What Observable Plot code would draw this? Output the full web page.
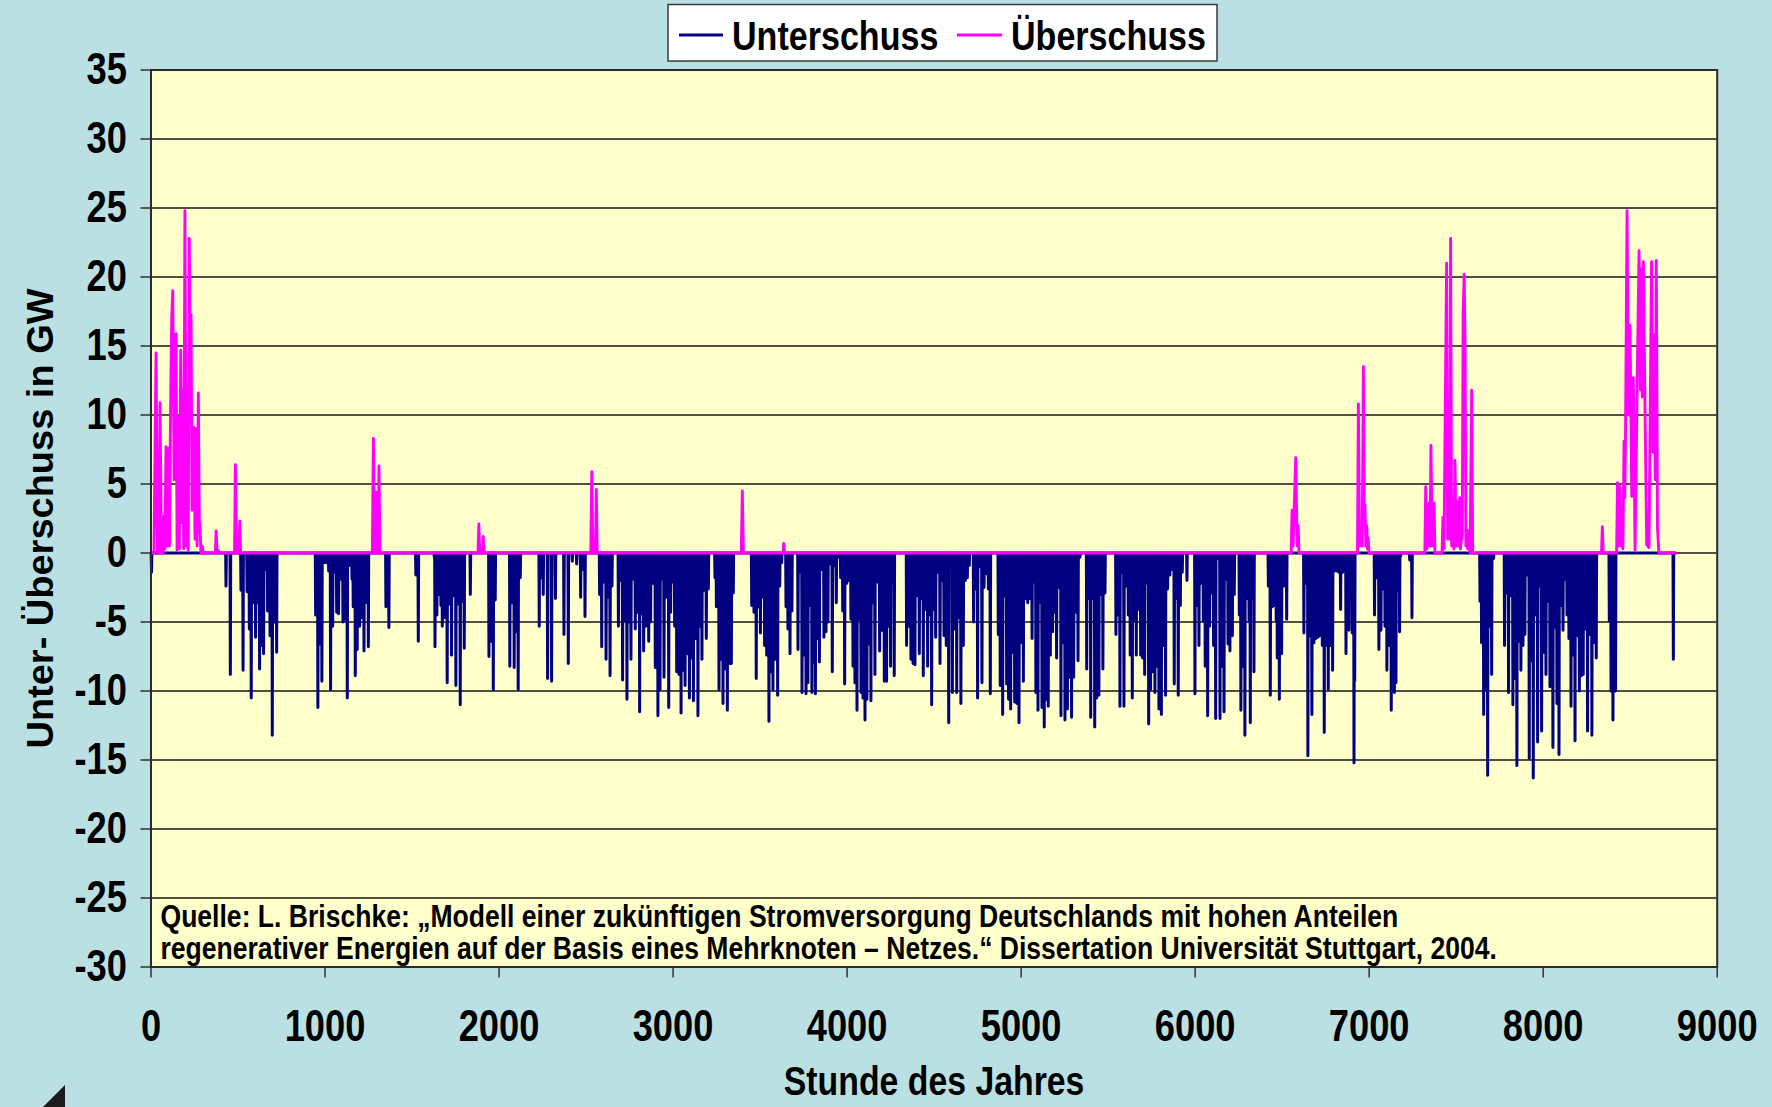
<!DOCTYPE html>
<html><head><meta charset="utf-8">
<script src="https://cdn.jsdelivr.net/npm/d3@7"></script>
<script src="https://cdn.jsdelivr.net/npm/@observablehq/plot@0.6"></script>
<style>
html,body{margin:0;padding:0;background:#BBE0E3;}
#page{position:relative;width:1772px;height:1107px;overflow:hidden;font-family:"Liberation Sans",Arial,sans-serif;font-weight:bold;}
#legend svg,#chart svg{display:block;}
#corner{position:absolute;left:0;top:0;pointer-events:none;}
</style></head><body><div id="page"><div id="legend"></div><div id="chart"></div></div>
<script>
// ---------------- data ----------------
const seriesNames = ["Unterschuss", "Überschuss"];
const seriesColors = ["#000080", "#FF00FF"];

// Unterschuss: hours of each downward spike and its depth (GW); the curve leaves 0 and returns to 0 around each
const unterHours = [3,
431,456,517,529,552,565,576,590,601,613,624,636,647,661,670,684,697,710,722,
946,959,971,982,996,1009,1021,1032,1044,1055,1067,1078,1090,1103,1115,1128,1139,1155,1162,1174,1185,1199,1210,1224,1235,1249,
1350,1367,1522,1536,
1628,1632,1643,1655,1666,1674,1685,1702,1716,1727,1741,1752,1766,1777,1789,1800,1835,
1942,1953,1967,1978,2062,2074,2087,2099,2110,2122,2231,2242,2254,2279,
2302,2324,2373,2398,2421,2446,2469,2483,2494,
2578,2590,2603,2615,2626,2638,2649,2686,2699,2710,2722,2735,2747,2758,2772,2783,2795,2808,2820,2831,2843,2860,2871,2885,2898,2913,2925,2936,2948,2961,2975,2986,2998,3009,3021,3034,3046,3057,3069,3082,3094,3105,3117,3130,3143,3155,3166,3180,3191,3203,
3241,3249,3264,3275,3287,3299,3312,3323,3335,3346,
3452,3465,3478,3490,3502,3515,3526,3538,3551,3563,3574,3586,3601,3613,3624,
3649,3660,3672,3683,3718,3729,3741,3752,3764,3775,3787,3798,3810,3818,3829,3841,3852,3867,3879,3890,3902,3915,3927,3938,3952,3963,3975,3986,3998,4011,4022,4034,4045,4057,4068,4080,4091,4103,4114,4126,4137,4149,4160,4174,4187,4201,4214,4227,4239,4250,4262,4271,
4342,4356,4367,4379,4390,4404,4415,4427,4438,4450,4463,4474,4486,4498,4509,4520,4534,4545,4557,4570,4584,
4605,4618,4630,4643,4654,4668,4679,4691,4702,4727,4739,4750,4764,4775,4787,4800,4812,4823,4869,4880,4894,4905,4917,4928,4940,4951,4963,4976,4988,4999,5013,5024,5038,5049,5063,5074,5085,5097,5108,5120,5133,5145,5156,5168,5181,5193,5204,5216,5229,5241,5252,5266,5277,5290,5302,5315,5327,5338,
5377,5388,5400,5411,5423,5434,5447,5459,5470,5482,
5545,5557,5568,5580,5591,5605,5616,5627,5639,5650,5662,5675,5687,5698,5710,5721,5733,5744,5758,5769,5781,5792,5806,5817,5830,5842,5855,5867,5880,5892,5903,5915,5926,5953,
5999,6011,6022,6036,6047,6058,6072,6083,6095,6106,6118,6129,6143,6154,6166,6177,6189,6200,6214,6225,6254,6263,6275,6286,6298,6310,6317,6327,6338,
6421,6432,6444,6455,6466,6472,6484,6497,6509,6526,
6625,6637,6648,6660,6671,6683,6694,6706,6717,6731,6742,6754,6765,6777,6790,6802,6813,6825,6836,6848,6867,6884,
6903,6913,6917,
7031,7043,7056,7068,7079,7091,7102,7114,7127,7139,7145,7154,7164,7175,7181,7233,7246,
7637,7646,7658,7671,7681,7692,7704,7715,
7778,7790,7801,7815,7826,7838,7849,7861,7872,7884,7895,7909,7920,7932,7943,7955,7968,7980,7991,8005,8016,8028,8039,8047,8056,8068,8079,8091,8102,8114,8125,8137,8148,8160,8171,8183,8196,8208,8219,8230,8242,8255,8267,8280,8292,8305,
8380,8390,8401,8411,8416,
8748];
const unterValues = [-1.4,
-2.4,-8.8,-2.7,-8.5,-2.8,-5.5,-10.5,-3.6,-6.1,-3.6,-8.4,-6.7,-7.3,-1.2,-4.2,-6.0,-13.2,-5.0,-7.2,
-4.5,-11.2,-6.6,-9.3,-0.7,-0.7,-1.3,-9.9,-5.3,-1.4,-4.3,-4.4,-1.9,-5.0,-4.8,-10.5,-0.9,-1.9,-3.9,-8.9,-7.0,-5.3,-4.7,-7.1,-3.6,-6.8,
-3.9,-5.4,-1.6,-6.4,
-0.3,-6.8,-4.5,-3.0,-3.8,-5.3,-4.7,-9.4,-3.7,-7.4,-3.1,-9.6,-3.7,-11.0,-3.5,-6.9,-3.0,
-7.5,-6.4,-9.9,-3.4,-8.2,-3.6,-8.3,-5.7,-9.9,-1.8,-5.3,-1.8,-3.0,-9.1,
-9.3,-3.3,-5.9,-8.0,-0.6,-0.8,-3.2,-1.2,-4.6,
-3.0,-6.8,-2.1,-7.7,-3.2,-8.9,-2.4,-5.3,-2.0,-9.2,-4.9,-10.6,-5.0,-7.7,-1.9,-5.5,-4.3,-11.5,-4.4,-7.1,-5.3,-6.4,-5.0,-2.2,-8.3,-11.8,-9.9,-1.9,-9.0,-3.2,-11.2,-4.3,-2.1,-5.3,-8.6,-8.8,-11.6,-8.5,-9.6,-7.3,-10.5,-7.6,-10.7,-6.2,-11.8,-5.3,-7.7,-2.7,-6.2,-2.6,
-1.8,-3.9,-9.9,-7.7,-10.9,-8.4,-11.4,-8.0,-8.0,-2.9,
-3.8,-4.3,-9.1,-3.9,-5.8,-3.2,-6.7,-7.4,-12.2,-8.6,-9.9,-7.7,-10.3,-2.4,-0.7,
-3.9,-5.5,-7.3,-4.2,-7.0,-1.4,-10.1,-7.4,-10.2,-9.4,-3.8,-10.1,-7.9,-10.2,-6.2,-7.9,-1.2,-6.1,-5.7,-5.0,-0.8,-8.6,-0.9,-3.6,-0.3,-1.8,-4.2,-9.5,-2.2,-2.0,-4.8,-8.2,-9.4,-11.4,-4.8,-10.1,-10.5,-12.1,-10.6,-6.6,-10.7,-3.6,-8.8,-2.1,-7.1,-5.6,-9.3,-9.3,-5.3,-8.2,-2.1,-8.9,
-6.7,-5.3,-7.7,-8.0,-8.1,-3.1,-7.3,-3.3,-8.9,-4.1,-8.2,-4.5,-11.0,-4.1,-6.1,-1.4,-8.0,-2.0,-6.0,-6.7,-12.3,
-10.1,-5.5,-10.1,-4.7,-10.9,-6.7,-2.0,-1.8,-0.9,-5.0,-2.6,-10.5,-1.0,-9.4,-2.5,-1.5,-2.6,-10.2,-5.9,-9.6,-11.7,-3.1,-9.5,-10.6,-11.3,-7.2,-10.8,-10.9,-12.3,-6.5,-9.3,-3.3,-3.6,-3.3,-6.2,-2.1,-10.1,-11.4,-3.6,-11.2,-12.6,-10.6,-11.1,-7.4,-5.7,-4.3,-7.6,-2.5,-11.8,-6.5,-12.1,-11.3,-9.0,-11.9,-9.0,-4.3,-7.8,-0.3,
-8.4,-3.3,-11.9,-3.3,-12.6,-10.5,-10.3,-3.0,-8.4,-2.9,
-5.9,-4.5,-11.1,-1.4,-11.1,-2.4,-4.5,-7.4,-10.5,-4.9,-7.4,-4.1,-7.4,-7.6,-8.8,-2.2,-12.4,-9.9,-8.6,-10.1,-8.2,-11.3,-11.7,-6.7,-10.3,-2.6,-1.6,-1.2,-9.5,-3.3,-10.3,-3.8,-1.4,-2.0,
-10.2,-3.8,-6.7,-2.2,-4.9,-8.2,-11.8,-5.3,-2.9,-6.7,-12.0,-0.4,-12.0,-8.2,-11.5,-1.9,-6.6,-7.1,-6.0,-3.0,-4.5,-11.4,-8.2,-13.2,-3.3,-5.0,-12.3,-3.3,-8.6,
-2.4,-10.3,-3.9,-3.8,-4.9,-7.6,-10.6,-7.3,-2.4,-4.8,
-5.8,-2.2,-14.7,-6.0,-11.7,-6.5,-6.2,-6.1,-6.0,-6.7,-13.0,-6.7,-9.9,-6.7,-8.5,-1.3,-1.3,-1.4,-4.1,-1.4,-7.3,-5.6,
-5.8,-15.2,-9.3,
-4.5,-1.8,-7.0,-5.6,-2.6,-5.3,-8.5,-6.7,-11.4,-1.5,-10.1,-9.4,-2.7,-5.7,-0.2,-0.5,-4.7,
-3.5,-6.5,-11.7,-9.9,-16.1,-5.3,-8.8,-0.4,
-6.7,-2.9,-10.1,-3.1,-11.0,-9.1,-15.4,-6.4,-8.5,-6.7,-5.9,-1.6,-14.9,-7.8,-16.3,-4.5,-13.7,-2.4,-12.9,-7.2,-8.8,-3.5,-9.7,-3.3,-14.1,-5.4,-10.9,-14.6,-3.8,-5.6,-1.9,-4.5,-6.2,-11.1,-7.4,-13.6,-6.0,-10.0,-8.9,-8.8,-5.5,-12.9,-5.9,-13.2,-6.5,-7.6,
-4.9,-10.0,-12.1,-4.1,-10.0,
-7.7];

// Überschuss: the magenta curve, point by point (hour, GW)
const ueberHours = [0,17,29,37,46,52,60,71,75,80,86,92,98,106,112,119,125,133,138,144,150,155,163,171,178,182,188,195,203,209,214,220,226,230,236,242,247,253,259,265,272,278,281,287,295,300,
370,374,380,387,392,480,485,492,505,510,515,
1272,1278,1284,1290,1295,1300,1305,1310,1316,
1879,1884,1889,1904,1909,1914,
2527,2533,2539,2554,2559,2564,
3392,3398,3404,3632,3636,3640,
6552,6557,6563,6578,6586,6592,6597,
6933,6938,6945,6951,6960,6967,6972,6976,6981,6986,6990,6994,6999,
7320,7325,7332,7344,7350,7355,7362,7373,7378,
7419,7424,7430,7445,7451,7457,7462,7468,7474,7480,7487,7493,7500,7507,7513,7520,7525,7530,7535,7540,7546,7551,7556,7561,7566,7570,7580,7589,7595,
8335,8340,8345,
8422,8427,8434,8442,8446,8451,8458,8465,8469,8473,8482,8490,8499,8509,8518,8528,8541,8551,8559,8564,8570,8576,8585,8595,8608,8623,8631,8639,8644,8650,8657,8665,8760];
const ueberValues = [0,0,14.5,0,0,10.9,0,0,2.7,0.3,7.7,0.5,7.6,0.5,9.9,16.9,19.0,5.3,13.5,15.9,0.2,9.9,0.3,14.7,2.2,11.8,0.3,24.8,0.5,1.4,0.2,22.8,12.0,17.3,3.1,3.2,9.1,1.0,9.0,0.5,11.6,1.5,2.2,0,0.5,0,
0,1.6,0,0.2,0,0,6.4,0,0,2.3,0,
0,8.3,0,0,4.4,0,0,6.3,0,
0,2.1,0,0,1.2,0,
0,5.9,0,0,4.6,0,
0,4.5,0,0,0.7,0,
0,3.1,0.5,6.9,0.5,2.0,0,
0,10.8,0.5,1.4,0.5,13.5,2.5,3.5,0.5,2.0,0.3,1.1,0,
0,4.8,0.3,3.6,0.5,7.8,0.5,3.6,0,
0,2.6,0.3,21.0,1.0,6.9,1.0,22.8,0.5,1.3,0.3,6.7,0.5,3.7,0.5,4.0,0.3,1.1,1.0,17.2,20.2,15.2,0.5,1.7,0.3,1.6,0,11.8,0,
0,1.9,0,
0,5.1,0.5,4.8,0.5,2.0,0.3,8.1,4.0,8.1,24.8,10.0,16.5,4.1,12.7,0.2,13.0,21.9,11.8,20.6,11.3,21.1,10.7,0.6,0.4,21.1,7.3,15.8,5.3,21.2,1.8,0,0];

const xTicks = [0,1000,2000,3000,4000,5000,6000,7000,8000,9000];
const yTicks = [-30,-25,-20,-15,-10,-5,0,5,10,15,20,25,30,35];
const gridValues = [-25,-20,-15,-10,-5,0,5,10,15,20,25,30];
const xLabel = "Stunde des Jahres";
const yLabel = "Unter- Überschuss in GW";
const sourceLines = [
  "Quelle: L. Brischke: „Modell einer zukünftigen Stromversorgung Deutschlands mit hohen Anteilen",
  "regenerativer Energien auf der Basis eines Mehrknoten – Netzes.“ Dissertation Universität Stuttgart, 2004."
];

// ---------------- build ----------------
const unter = [{h: 0, v: 0}];
unterHours.forEach((h, i) => { unter.push({h: h - 2, v: 0}, {h, v: unterValues[i]}, {h: h + 2, v: 0}); });
unter.push({h: 8760, v: 0});
unter.sort((a, b) => a.h - b.h);
const ueber = ueberHours.map((h, i) => ({h, v: ueberValues[i]}));

const FONT = "'Liberation Sans', Arial, Helvetica, sans-serif";
const K = 0.835;   // horizontal narrowing of the lettering in the reference
const KR = 0.95;   // the same for the rotated axis title (glyph height on screen)

const chart = Plot.plot({
  width: 1772,
  height: 1045,
  marginTop: 7.5,
  marginBottom: 140.5,
  marginLeft: 150.5,
  marginRight: 55.3,
  style: {background: "transparent", fontFamily: FONT, fontWeight: "bold", overflow: "visible", color: "#000"},
  x: {domain: [0, 9000]},
  y: {domain: [-30, 35]},
  marks: [
    Plot.frame({fill: "#FFFFCC", stroke: null}),
    Plot.ruleY(gridValues, {stroke: "#151515", strokeWidth: 1.6}),
    Plot.line(unter, {x: "h", y: "v", stroke: seriesColors[0], strokeWidth: 3}),
    Plot.line(ueber, {x: "h", y: "v", stroke: seriesColors[1], strokeWidth: 2.9}),
    Plot.text([sourceLines[0]], {frameAnchor: "bottom-left", lineAnchor: "middle", textAnchor: "start", dx: 9.5, dy: -50.5, fontSize: 31.8, fill: "#000"}),
    Plot.text([sourceLines[1]], {frameAnchor: "bottom-left", lineAnchor: "middle", textAnchor: "start", dx: 9.5, dy: -18, fontSize: 31.8, fill: "#000"}),
    Plot.axisY({ticks: yTicks, tickSize: 10, tickPadding: 14, tickFormat: d => String(d), fontSize: 43.5, stroke: "#333", strokeWidth: 1.5, label: null}),
    Plot.axisX({ticks: xTicks, tickSize: 11, tickPadding: 32, tickFormat: d => String(d), fontSize: 43.5, stroke: "#333", strokeWidth: 1.5, label: null}),
    Plot.text([xLabel], {frameAnchor: "bottom", lineAnchor: "middle", textAnchor: "middle", dy: 115.5, fontSize: 40.5, fill: "#000"}),
    Plot.text([yLabel], {frameAnchor: "left", lineAnchor: "middle", textAnchor: "middle", dx: -110, rotate: -90, fontSize: 38, fill: "#000"}),
    Plot.frame({stroke: "#2a2a2a", strokeWidth: 2})
  ]
});

// narrow all lettering horizontally, as in the reference
chart.querySelectorAll("text").forEach(t => {
  const tr = t.getAttribute("transform");
  if (tr && tr.includes("translate")) {
    t.setAttribute("transform", tr + (tr.includes("rotate") ? ` scale(1,${KR})` : ` scale(${K},1)`));
  } else {
    const x = +(t.getAttribute("x") || 0);
    t.setAttribute("transform", `${tr || ""} translate(${x},0) scale(${K},1) translate(${-x},0)`);
  }
});
document.getElementById("chart").appendChild(chart);

// legend (above the chart)
const lg = d3.select("#legend").append("svg").attr("width", 1772).attr("height", 62)
  .style("overflow", "visible").style("font-family", FONT).style("font-weight", "bold");
lg.append("rect").attr("x", 668).attr("y", 4.5).attr("width", 549).attr("height", 56.5)
  .attr("fill", "#fff").attr("stroke", "#3a3a3a").attr("stroke-width", 1.5);
const legendItems = [
  {name: seriesNames[0], color: seriesColors[0], x1: 679, x2: 723, tx: 732},
  {name: seriesNames[1], color: seriesColors[1], x1: 957, x2: 1002, tx: 1011}
];
legendItems.forEach(it => {
  lg.append("line").attr("x1", it.x1).attr("x2", it.x2).attr("y1", 35).attr("y2", 35)
    .attr("stroke", it.color).attr("stroke-width", 3);
  lg.append("text").attr("transform", `translate(${it.tx},49.5) scale(${K},1)`)
    .attr("font-size", 40.8).attr("fill", "#000").text(it.name);
});

// small dark corner triangle at the bottom left of the slide
const corner = d3.select("#page").append("svg").attr("id", "corner").attr("width", 1772).attr("height", 1107);
corner.append("polygon").attr("points", "43,1107 65,1085 65,1107").attr("fill", "#1a1a1a");
</script></body></html>
